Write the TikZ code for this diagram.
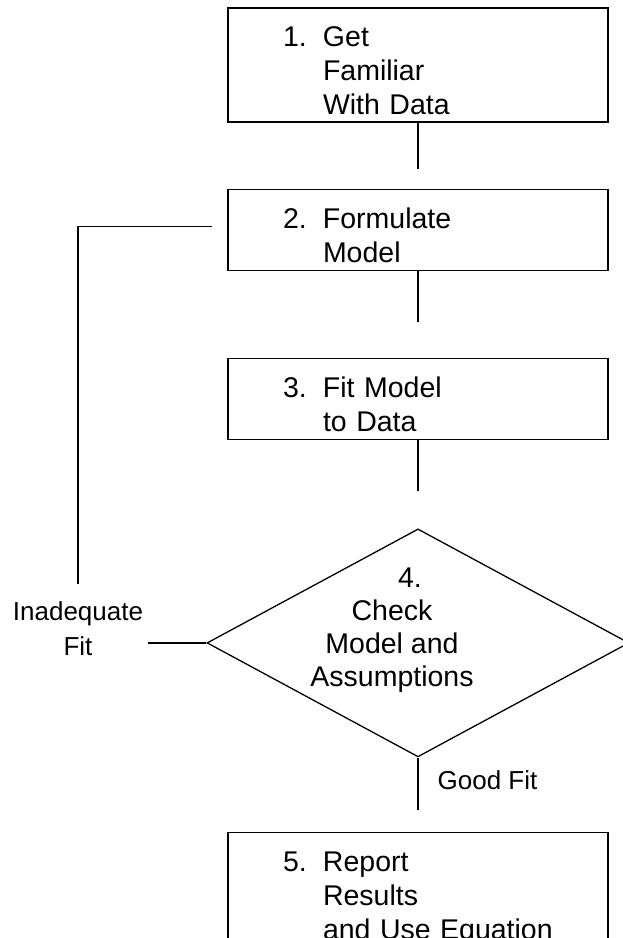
\documentclass[tikz,border=0pt]{standalone}
\usepackage{fontspec}
\setmainfont{Liberation Sans}
\usetikzlibrary{shapes.geometric, positioning}

\newcommand{\stepnum}[1]{\makebox[40pt][l]{#1}}
\newcommand{\stepgap}{\hspace*{40pt}}

\tikzset{
  stepbox/.style={rectangle, draw, line width=1.3pt, inner xsep=55pt, inner ysep=0pt,
    text width=270pt, align=left, minimum height=81pt,
    font=\fontsize{28.5}{34}\selectfont,
    execute at begin node={\rule{0pt}{31pt}}},
  decision/.style={diamond, draw, line width=1.3pt, inner sep=0pt,
    minimum width=422pt, minimum height=228pt},
  checklabel/.style={align=center, inner sep=0pt, xshift=-26pt, yshift=12.5pt,
    font=\fontsize{28.5}{33}\selectfont},
  link/.style={line width=1.3pt}
}

\begin{document}
\begin{tikzpicture}[x=1pt, y=1pt, font=\fontsize{26}{35}\selectfont]
    \useasboundingbox (0,0) rectangle (622,-938);

    % Steps
    \node (get) [stepbox, minimum height=114pt] at (418,-65) {\stepnum{1.}Get\\\stepgap Familiar\\\stepgap With Data};
    \node (formulate) [stepbox, below=66pt of get] {\stepnum{2.}Formulate\\\stepgap Model};
    \node (fit) [stepbox, below=87pt of formulate] {\stepnum{3.}Fit Model\\\stepgap to Data};
    \node (check) [decision, below=88pt of fit,
      label={[checklabel]center:{\hspace*{36pt}4.\\Check\\Model and\\Assumptions}}] {};
    \node (report) [stepbox, minimum height=122pt, below=74pt of check] {\stepnum{5.}Report\\\stepgap Results\\\stepgap and Use Equation};
    \node (inadequate) [inner sep=0pt, align=center] at (78,-629) {Inadequate\\Fit};

    % Flows
    \draw[link, shorten >=20pt] (get) -- (formulate);
    \draw[link, shorten >=36pt] (formulate) -- (fit);
    \draw[link, shorten >=37pt] (fit) -- (check);
    \draw[link, shorten >=22pt] (check) -- node[pos=0.3, right=19pt, inner sep=0pt] {Good Fit} (report);

    % Loop back
    \draw[link, shorten >=5pt] (check.west) -- (check.west -| inadequate.east);
    \draw[link, shorten <=18pt, shorten >=15pt] (inadequate.north) |- ([yshift=3.5pt]formulate.west);
\end{tikzpicture}
\end{document}
